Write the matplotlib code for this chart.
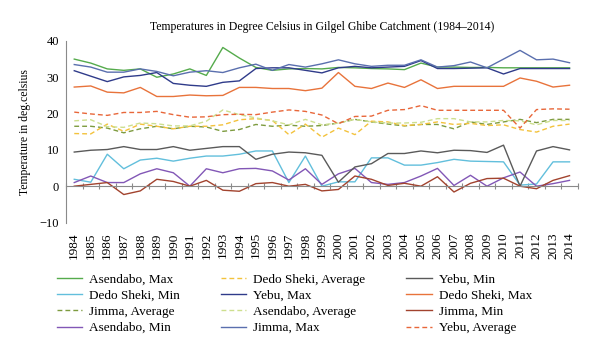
from matplotlib import pyplot as plt

years = list(range(1984, 2015))

asendabo_max = [35.0, 33.9, 32.3, 31.9, 32.3, 30.0, 30.9, 32.3, 30.5, 38.2, 35.3, 32.7, 31.9, 32.3, 32.4, 32.3,
                32.7, 32.6, 32.4, 32.3, 32.1, 33.9, 32.8, 32.8, 32.7, 32.7, 32.6, 32.6, 32.6, 32.6, 32.6]
jimma_max = [33.5, 32.8, 31.4, 31.4, 32.3, 31.6, 30.4, 31.4, 31.8, 31.3, 32.6, 33.6, 31.9, 33.5, 32.8, 33.7,
             34.8, 33.7, 33.0, 33.3, 33.3, 34.8, 32.8, 33.2, 34.2, 32.6, 35.0, 37.4, 34.8, 35.0, 34.0]
yebu_max = [31.8, 30.3, 28.8, 30.1, 30.5, 31.3, 28.3, 27.8, 27.5, 28.6, 29.0, 32.4, 32.6, 32.6, 31.9, 31.2,
            32.6, 33.0, 32.6, 32.8, 33.0, 34.6, 32.4, 32.4, 32.5, 32.6, 30.9, 32.4, 32.4, 32.4, 32.4]
dedo_max = [27.3, 27.6, 25.9, 25.7, 27.2, 24.7, 24.7, 25.1, 24.9, 25.0, 27.2, 27.2, 26.9, 26.9, 26.3, 27.0,
            31.3, 27.5, 26.9, 28.4, 27.2, 29.3, 26.9, 27.5, 27.5, 27.5, 27.5, 29.8, 28.9, 27.3, 27.8]

yebu_avg = [20.4, 19.9, 19.5, 20.3, 20.3, 20.6, 19.7, 19.0, 19.1, 19.7, 19.8, 19.7, 20.4, 21.0, 20.6, 19.6,
            17.2, 19.2, 19.3, 20.9, 21.1, 22.2, 20.9, 20.9, 20.9, 20.9, 20.9, 16.0, 21.1, 21.3, 21.2]
asendabo_avg = [18.0, 18.3, 16.4, 16.2, 17.4, 17.2, 16.6, 16.6, 17.9, 21.0, 19.7, 18.8, 18.0, 16.9, 18.4, 16.9,
                17.4, 18.4, 17.7, 17.4, 17.4, 17.6, 18.6, 18.6, 17.7, 17.7, 18.1, 18.0, 16.9, 18.1, 18.1]
dedo_avg = [14.5, 14.4, 17.1, 15.1, 17.1, 16.5, 15.8, 16.5, 16.5, 16.9, 18.3, 18.6, 18.1, 14.2, 17.1, 13.5,
            16.0, 14.2, 17.9, 17.7, 16.7, 17.0, 17.7, 17.0, 17.3, 16.7, 16.9, 15.6, 14.9, 16.5, 17.1]
jimma_avg = [16.5, 16.5, 16.0, 14.7, 15.8, 16.5, 15.8, 16.5, 16.3, 15.1, 15.6, 17.0, 16.5, 16.8, 16.5, 16.7,
             17.4, 18.4, 17.7, 17.1, 16.6, 17.0, 17.0, 15.8, 17.7, 17.0, 17.7, 18.4, 17.5, 18.4, 18.4]

yebu_min = [9.4, 9.9, 10.1, 10.9, 10.1, 10.1, 10.9, 9.9, 10.4, 10.9, 10.9, 7.4, 8.8, 9.4, 9.2, 8.5,
            1.1, 5.3, 6.2, 9.0, 9.0, 9.7, 9.2, 9.9, 9.8, 9.3, 11.3, 0.0, 9.7, 10.9, 10.0]
dedo_min = [1.9, 1.1, 8.8, 4.8, 7.2, 7.7, 6.9, 7.7, 8.3, 8.3, 8.8, 9.7, 9.7, 1.0, 8.3, 0.0,
            1.2, 1.2, 7.8, 7.8, 5.8, 5.8, 6.5, 7.4, 6.9, 6.8, 6.7, 0.3, 0.6, 6.7, 6.7]
asendabo_min = [1.0, 2.8, 1.0, 1.0, 3.4, 4.8, 3.7, 0.0, 4.8, 3.7, 4.8, 4.9, 4.2, 1.7, 4.8, 0.5,
                3.4, 4.9, 1.0, 0.5, 1.0, 2.8, 4.9, 0.2, 3.0, 0.0, 2.3, 3.9, 0.0, 0.7, 1.6]
jimma_min = [0.0, 0.5, 1.0, -2.3, -1.3, 1.9, 1.3, 0.0, 1.6, -1.1, -1.4, 0.7, 1.0, 0.0, 0.5, -1.3,
             -0.9, 2.8, 1.9, 0.2, 0.8, 0.0, 2.6, -1.6, 0.8, 2.1, 2.2, 0.0, -0.7, 1.6, 2.9]

plt.rcParams['font.family'] = ['Liberation Serif', 'DejaVu Serif']
fs = 8.5

fig = plt.figure(figsize=(6.0, 3.56), dpi=100)
ax = fig.add_axes([0.11, 0.375, 0.853, 0.51])

dash = (3.5, 2.2)
# order = column by column of the legend
series = [
    ("Asendabo, Max", asendabo_max, '#55ab4c', None),
    ("Dedo Sheki, Min", dedo_min, '#62bfdc', None),
    ("Jimma, Average", jimma_avg, '#7d9b3f', dash),
    ("Asendabo, Min", asendabo_min, '#8257b6', None),
    ("Dedo Sheki, Average", dedo_avg, '#f3c23c', dash),
    ("Yebu, Max", yebu_max, '#2f3b8a', None),
    ("Asendabo, Average", asendabo_avg, '#cddf8e', dash),
    ("Jimma, Max", jimma_max, '#5a6fae', None),
    ("Yebu, Min", yebu_min, '#5a5a5a', None),
    ("Dedo Sheki, Max", dedo_max, '#e8733b', None),
    ("Jimma, Min", jimma_min, '#a2432e', None),
    ("Yebu, Average", yebu_avg, '#e8673a', dash),
]
for name, vals, col, ds in series:
    if ds is None:
        ax.plot(years, vals, color=col, lw=1.0, label=name)
    else:
        ax.plot(years, vals, color=col, lw=1.0, label=name, dashes=ds)

ax.set_xlim(1983.5, 2014.5)
ax.set_ylim(-10, 40)
ax.set_yticks([-10, 0, 10, 20, 30, 40])
ax.tick_params(axis='y', length=0, pad=5, labelsize=9)

# x axis line sits on zero
for s in ['top', 'right']:
    ax.spines[s].set_visible(False)
ax.spines['bottom'].set_position(('data', 0))
ax.spines['bottom'].set_color('#8a8a8a')
ax.spines['left'].set_color('#8a8a8a')
ax.set_xticks([y + 0.5 for y in [1983] + years])
ax.xaxis.set_ticklabels([])
ax.tick_params(axis='x', direction='inout', length=5, color='#8a8a8a')

sec = ax.secondary_xaxis(-0.0)
sec.set_xticks(years)
sec.set_xticklabels([str(y) for y in years], rotation=90, fontsize=9.5)
sec.tick_params(length=0, pad=7)
sec.spines['bottom'].set_visible(False)

ax.set_ylabel("Temperature in deg.celsius", fontsize=fs, labelpad=6)
ax.set_title("Temperatures in Degree Celsius in Gilgel Ghibe Catchment (1984\u20132014)", fontsize=8.5, pad=8)

fig.legend(loc='upper left', bbox_to_anchor=(0.095, 0.232), ncol=3, frameon=False, fontsize=9.5,
           handlelength=1.9, handletextpad=0.55, columnspacing=3.1, labelspacing=0.3,
           borderpad=0, borderaxespad=0)

plt.savefig('out.png', dpi=100)
